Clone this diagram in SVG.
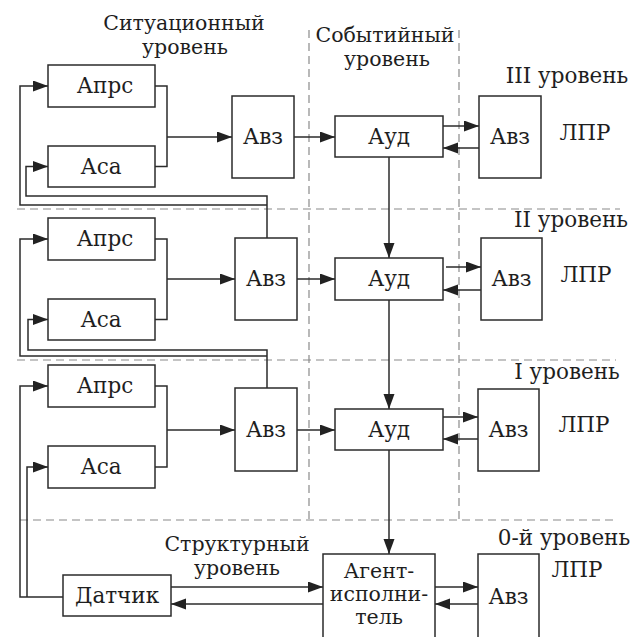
<svg xmlns="http://www.w3.org/2000/svg" width="632" height="637" viewBox="0 0 632 637">
<style>
.box{fill:#fff;stroke:#2b2b2b;stroke-width:1.5}
.ln{fill:none;stroke:#2b2b2b;stroke-width:1.5}
.ar{fill:none;stroke:#2b2b2b;stroke-width:1.5;marker-end:url(#ah)}
.dash{fill:none;stroke:#8a8a8a;stroke-width:1.2;stroke-dasharray:8 5}
text{font-family:"DejaVu Serif","Liberation Serif",serif;font-size:21.5px;fill:#1e1e1e;text-anchor:middle}
text.ml{font-size:20.5px}
</style>
<defs>
<marker id="ah" markerUnits="userSpaceOnUse" markerWidth="16" markerHeight="12" refX="15" refY="5.5" orient="auto">
<path d="M0,0 L15,5.5 L0,11 z" fill="#222"/>
</marker>
</defs>
<g id="guides">
<path class="dash" d="M17,209 H620 M17,360 H616 M20,520 H614 M309,30 V520 M459,30 V520"/>
</g>
<g id="labels">
<text class="ml" x="184" y="30">Ситуационный</text>
<text class="ml" x="185" y="54">уровень</text>
<text class="ml" x="385" y="42">Событийный</text>
<text class="ml" x="387" y="66">уровень</text>
<text x="567" y="83">III уровень</text>
<text x="585" y="140">ЛПР</text>
<text x="571" y="227">II уровень</text>
<text x="586" y="282">ЛПР</text>
<text x="567" y="379">I уровень</text>
<text x="584" y="432">ЛПР</text>
<text x="564" y="545">0-й уровень</text>
<text x="577" y="577">ЛПР</text>
<text class="ml" x="237" y="551">Структурный</text>
<text class="ml" x="237" y="575">уровень</text>
</g>
<g id="connectors">
<path class="ln" d="M155,86 H167 V166.5 H155"/>
<path class="ar" d="M167,137 H232"/>
<path class="ar" d="M294,137 H335"/>
<path class="ar" d="M443,126 H479"/>
<path class="ar" d="M479,148 H443"/>
<path class="ar" d="M389,157 V258"/>
<path class="ar" d="M267,238 V196 H26 V166.5 H48"/>
<path class="ar" d="M267,205 H20 V86 H48"/>
<path class="ln" d="M155,239 H167 V319.5 H155"/>
<path class="ar" d="M167,279 H235"/>
<path class="ar" d="M297,279 H335"/>
<path class="ar" d="M446,267 H481"/>
<path class="ar" d="M481,290 H443"/>
<path class="ar" d="M389,300 V409"/>
<path class="ar" d="M267,389 V350 H28 V319.5 H48"/>
<path class="ar" d="M267,356 H20 V239 H48"/>
<path class="ln" d="M155,386 H167 V467 H155"/>
<path class="ar" d="M167,430 H235"/>
<path class="ar" d="M297,430 H335"/>
<path class="ar" d="M443,417 H478"/>
<path class="ar" d="M478,439 H443"/>
<path class="ar" d="M389,450 V554"/>
<path class="ar" d="M63,597 H20 V386 H48"/>
<path class="ar" d="M27,597 V467 H48"/>
<path class="ar" d="M171,587 H323"/>
<path class="ar" d="M323,604 H171"/>
<path class="ar" d="M435,587 H478"/>
<path class="ar" d="M478,604 H435"/>
</g>
<g id="apr3"><rect class="box" x="48" y="65" width="107" height="42"/><text x="105" y="93">Апрс</text></g>
<g id="asa3"><rect class="box" x="48" y="146" width="107" height="41"/><text x="101" y="174">Аса</text></g>
<g id="avz3l"><rect class="box" x="232" y="96" width="62" height="82"/><text x="263" y="144">Авз</text></g>
<g id="aud3"><rect class="box" x="335" y="116" width="108" height="41"/><text x="389" y="144">Ауд</text></g>
<g id="avz3r"><rect class="box" x="479" y="96" width="62" height="82"/><text x="510" y="144">Авз</text></g>

<g id="apr2"><rect class="box" x="48" y="218" width="107" height="42"/><text x="105" y="246">Апрс</text></g>
<g id="asa2"><rect class="box" x="48" y="299" width="107" height="41"/><text x="101" y="327">Аса</text></g>
<g id="avz2l"><rect class="box" x="235" y="238" width="62" height="82"/><text x="266" y="286">Авз</text></g>
<g id="aud2"><rect class="box" x="335" y="258" width="108" height="42"/><text x="389" y="286">Ауд</text></g>
<g id="avz2r"><rect class="box" x="481" y="238" width="61" height="82"/><text x="511.5" y="286">Авз</text></g>

<g id="apr1"><rect class="box" x="48" y="365" width="107" height="42"/><text x="105" y="393">Апрс</text></g>
<g id="asa1"><rect class="box" x="48" y="446" width="107" height="42"/><text x="101" y="474">Аса</text></g>
<g id="avz1l"><rect class="box" x="235" y="388" width="62" height="83"/><text x="266" y="437">Авз</text></g>
<g id="aud1"><rect class="box" x="335" y="409" width="108" height="41"/><text x="389" y="437">Ауд</text></g>
<g id="avz1r"><rect class="box" x="478" y="389" width="61" height="82"/><text x="508.5" y="437">Авз</text></g>

<g id="sensor"><rect class="box" x="63" y="575" width="108" height="41"/><text x="117" y="603">Датчик</text></g>
<g id="agent"><rect class="box" x="323" y="554" width="112" height="100"/><text class="ml" x="379" y="578">Агент-</text><text class="ml" x="379" y="601">исполни-</text><text class="ml" x="379" y="624">тель</text></g>
<g id="avz0"><rect class="box" x="478" y="554" width="61" height="100"/><text x="508.5" y="604">Авз</text></g>
</svg>
